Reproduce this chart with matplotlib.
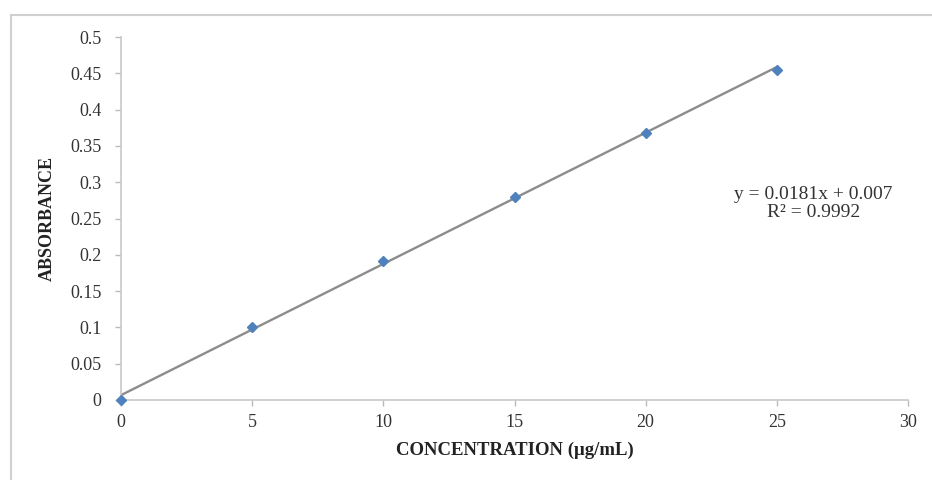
import matplotlib
matplotlib.use('Agg')
from matplotlib import pyplot as plt
from matplotlib.patches import Rectangle
import numpy as np

# calibration data
concentration = [0, 5, 10, 15, 20, 25]
absorbance = [0.0, 0.101, 0.192, 0.280, 0.368, 0.455]
x_ticks = [0, 5, 10, 15, 20, 25, 30]
y_ticks = [0, 0.05, 0.1, 0.15, 0.2, 0.25, 0.3, 0.35, 0.4, 0.45, 0.5]
equation = 'y = 0.0181x + 0.007\nR² = 0.9992'

plt.rcParams['font.family'] = ['Liberation Serif', 'DejaVu Serif']

fig = plt.figure(figsize=(9.32, 4.8), dpi=100)
# chart area border
fig.patches.append(Rectangle((11 / 932, -0.1), 1.2, 1 - 15 / 480 + 0.1,
                             transform=fig.transFigure, fill=False,
                             edgecolor='#d0d0d0', linewidth=1.5))
ax = fig.add_axes([121 / 932, 1 - 400 / 480, 787 / 932, 363 / 480])

# linear trendline
slope, intercept = np.polyfit(concentration, absorbance, 1)
xs = np.array([min(concentration), max(concentration)])
ax.plot(xs, slope * xs + intercept, color='#8c8c8c', linewidth=1.7, zorder=2)
ax.plot(concentration, absorbance, linestyle='none', marker='D',
        markersize=5, color='#4f81bd', zorder=3, clip_on=False)

ax.set_xlim(0, 30)
ax.set_ylim(0, 0.5)
ax.set_xticks(x_ticks)
ax.set_yticks(y_ticks)
ax.set_xticklabels([str(t) for t in x_ticks])
ax.set_yticklabels(['0', '0.05', '0.1', '0.15', '0.2', '0.25', '0.3',
                    '0.35', '0.4', '0.45', '0.5'])
ax.tick_params(axis='both', labelsize=13, colors='#bbbbbb',
               labelcolor='#333333', length=4, width=1)
ax.tick_params(axis='x', pad=6)
ax.tick_params(axis='y', pad=10)
for side in ['top', 'right']:
    ax.spines[side].set_visible(False)
for side in ['left', 'bottom']:
    ax.spines[side].set_color('#c8c8c8')
    ax.spines[side].set_linewidth(1.2)

ax.set_xlabel('CONCENTRATION (μg/mL)', fontsize=13.5, fontweight='bold',
              labelpad=8, color='#222222')
ax.set_ylabel('ABSORBANCE', fontsize=13, fontweight='bold',
              labelpad=10, color='#222222')

ax.text(26.4, 0.271, equation, fontsize=14, ha='center', va='center',
        color='#333333', linespacing=1.05)

fig.savefig('out.png', dpi=100)
